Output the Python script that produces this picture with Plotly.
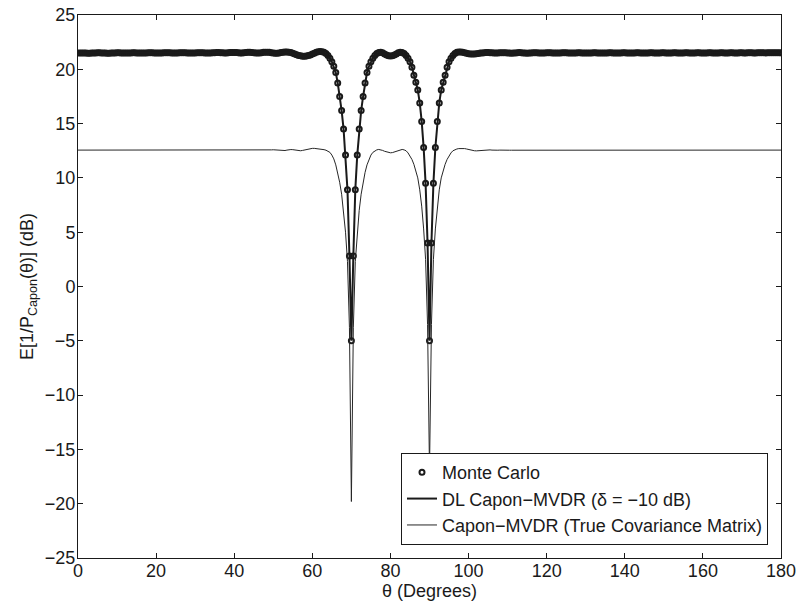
import plotly.graph_objects as go

# Look direction grid (degrees), 0.5 degree steps from 0 to 180
theta_deg = [i * 0.5 for i in range(361)]

# E[1/P_Capon] with diagonal loading (delta = -10 dB), in dB
dl_capon_db = [
    21.50, 21.50, 21.50, 21.50, 21.49, 21.48, 21.48, 21.49, 21.50, 21.51, 21.52, 21.52, 21.51, 21.50, 21.49, 21.48, 21.48, 21.49, 21.50, 21.51,
    21.52, 21.52, 21.51, 21.50, 21.49, 21.49, 21.50, 21.51, 21.52, 21.52, 21.51, 21.50, 21.49, 21.49, 21.50, 21.51, 21.52, 21.53, 21.52, 21.51,
    21.50, 21.49, 21.49, 21.50, 21.52, 21.53, 21.53, 21.52, 21.50, 21.49, 21.49, 21.50, 21.52, 21.53, 21.53, 21.52, 21.51, 21.50, 21.50, 21.51,
    21.51, 21.52, 21.53, 21.53, 21.52, 21.51, 21.50, 21.50, 21.51, 21.52, 21.53, 21.54, 21.54, 21.53, 21.52, 21.51, 21.51, 21.52, 21.54, 21.55,
    21.55, 21.54, 21.52, 21.51, 21.51, 21.52, 21.54, 21.56, 21.56, 21.55, 21.53, 21.51, 21.50, 21.51, 21.53, 21.56, 21.58, 21.58, 21.56, 21.53,
    21.50, 21.48, 21.48, 21.50, 21.54, 21.58, 21.60, 21.60, 21.58, 21.54, 21.48, 21.41, 21.34, 21.28, 21.24, 21.21, 21.20, 21.22, 21.26, 21.32,
    21.40, 21.48, 21.56, 21.62, 21.64, 21.62, 21.56, 21.45, 21.28, 21.02, 20.70, 20.28, 19.70, 18.75, 17.50, 16.20, 14.50, 12.10, 8.90, 2.80,
    -5.00, 2.80, 8.90, 12.10, 14.50, 16.20, 17.50, 18.75, 19.70, 20.28, 20.70, 21.02, 21.28, 21.45, 21.55, 21.58, 21.52, 21.42, 21.32, 21.25,
    21.22, 21.25, 21.32, 21.42, 21.52, 21.58, 21.55, 21.45, 21.28, 21.02, 20.70, 20.20, 19.45, 18.80, 18.10, 16.90, 15.20, 12.80, 9.50, 4.00,
    -5.00, 4.00, 9.50, 12.80, 15.20, 16.90, 18.10, 18.80, 19.45, 20.20, 20.70, 21.02, 21.28, 21.45, 21.56, 21.60, 21.60, 21.57, 21.52, 21.48,
    21.44, 21.41, 21.40, 21.41, 21.43, 21.46, 21.49, 21.51, 21.53, 21.54, 21.54, 21.53, 21.52, 21.51, 21.51, 21.51, 21.52, 21.53, 21.53, 21.52,
    21.51, 21.49, 21.48, 21.49, 21.51, 21.53, 21.54, 21.53, 21.51, 21.49, 21.48, 21.49, 21.51, 21.53, 21.53, 21.52, 21.50, 21.49, 21.49, 21.50,
    21.52, 21.53, 21.53, 21.51, 21.50, 21.49, 21.49, 21.50, 21.52, 21.53, 21.52, 21.51, 21.49, 21.49, 21.50, 21.51, 21.52, 21.52, 21.51, 21.50,
    21.49, 21.49, 21.50, 21.51, 21.52, 21.52, 21.51, 21.50, 21.49, 21.49, 21.50, 21.51, 21.52, 21.52, 21.51, 21.50, 21.49, 21.50, 21.51, 21.52,
    21.52, 21.51, 21.50, 21.49, 21.50, 21.51, 21.52, 21.52, 21.51, 21.50, 21.50, 21.50, 21.51, 21.52, 21.52, 21.51, 21.50, 21.50, 21.51, 21.52,
    21.52, 21.51, 21.50, 21.50, 21.51, 21.52, 21.52, 21.51, 21.50, 21.50, 21.51, 21.52, 21.52, 21.51, 21.50, 21.50, 21.51, 21.52, 21.52, 21.51,
    21.50, 21.50, 21.51, 21.52, 21.52, 21.51, 21.50, 21.50, 21.51, 21.52, 21.52, 21.51, 21.51, 21.51, 21.52, 21.52, 21.51, 21.51, 21.51, 21.52,
    21.52, 21.51, 21.51, 21.52, 21.52, 21.52, 21.51, 21.51, 21.52, 21.52, 21.52, 21.52, 21.51, 21.52, 21.52, 21.52, 21.52, 21.52, 21.52, 21.52,
    21.52,
]

# Monte Carlo averages land on the DL Capon curve at every grid point
monte_carlo_db = list(dl_capon_db)

# 1/P_Capon computed from the true covariance matrix, in dB
true_cov_db = [
    12.56, 12.56, 12.56, 12.55, 12.55, 12.55, 12.56, 12.56, 12.56, 12.56, 12.55, 12.55, 12.55, 12.56, 12.56, 12.56, 12.56, 12.55, 12.55, 12.55,
    12.56, 12.56, 12.56, 12.56, 12.55, 12.55, 12.55, 12.56, 12.56, 12.56, 12.56, 12.55, 12.55, 12.55, 12.56, 12.56, 12.56, 12.56, 12.55, 12.55,
    12.55, 12.56, 12.56, 12.56, 12.55, 12.55, 12.55, 12.56, 12.56, 12.56, 12.55, 12.55, 12.55, 12.56, 12.56, 12.56, 12.55, 12.55, 12.55, 12.56,
    12.56, 12.56, 12.55, 12.55, 12.56, 12.56, 12.56, 12.55, 12.55, 12.55, 12.56, 12.56, 12.57, 12.56, 12.55, 12.55, 12.55, 12.56, 12.57, 12.57,
    12.56, 12.55, 12.54, 12.55, 12.56, 12.57, 12.57, 12.56, 12.54, 12.54, 12.55, 12.57, 12.58, 12.57, 12.55, 12.53, 12.52, 12.53, 12.55, 12.58,
    12.59, 12.58, 12.55, 12.51, 12.49, 12.49, 12.52, 12.56, 12.60, 12.61, 12.60, 12.57, 12.53, 12.50, 12.50, 12.53, 12.58, 12.63, 12.67, 12.70,
    12.72, 12.72, 12.71, 12.69, 12.66, 12.63, 12.60, 12.55, 12.48, 12.35, 12.10, 11.75, 11.20, 10.50, 9.60, 8.50, 7.00, 5.00, 2.30, -3.80,
    -19.80, -3.80, 2.30, 5.00, 7.00, 8.50, 9.60, 10.50, 11.20, 11.75, 12.10, 12.35, 12.50, 12.58, 12.62, 12.60, 12.53, 12.45, 12.38, 12.33,
    12.31, 12.33, 12.38, 12.45, 12.53, 12.60, 12.62, 12.58, 12.50, 12.30, 12.05, 11.70, 11.25, 10.70, 10.00, 8.90, 7.40, 5.30, 2.50, -3.50,
    -17.00, -3.50, 2.50, 5.30, 7.40, 8.90, 10.00, 10.70, 11.25, 11.70, 12.05, 12.30, 12.50, 12.60, 12.66, 12.70, 12.72, 12.72, 12.70, 12.66,
    12.61, 12.57, 12.53, 12.50, 12.49, 12.50, 12.53, 12.56, 12.59, 12.60, 12.60, 12.58, 12.56, 12.54, 12.54, 12.55, 12.56, 12.57, 12.58, 12.57,
    12.56, 12.55, 12.55, 12.55, 12.56, 12.57, 12.57, 12.57, 12.56, 12.55, 12.55, 12.55, 12.56, 12.57, 12.57, 12.57, 12.56, 12.55, 12.55, 12.56,
    12.56, 12.57, 12.57, 12.56, 12.55, 12.54, 12.55, 12.56, 12.57, 12.57, 12.56, 12.55, 12.55, 12.55, 12.56, 12.57, 12.57, 12.56, 12.55, 12.55,
    12.56, 12.56, 12.57, 12.56, 12.56, 12.55, 12.55, 12.56, 12.56, 12.57, 12.56, 12.56, 12.55, 12.55, 12.56, 12.56, 12.56, 12.56, 12.56, 12.55,
    12.55, 12.56, 12.56, 12.56, 12.56, 12.56, 12.55, 12.55, 12.56, 12.56, 12.56, 12.56, 12.56, 12.55, 12.55, 12.56, 12.56, 12.56, 12.56, 12.56,
    12.55, 12.55, 12.56, 12.56, 12.56, 12.56, 12.56, 12.56, 12.55, 12.56, 12.56, 12.56, 12.56, 12.56, 12.56, 12.56, 12.56, 12.56, 12.56, 12.56,
    12.56, 12.56, 12.55, 12.55, 12.56, 12.56, 12.56, 12.56, 12.56, 12.56, 12.55, 12.55, 12.56, 12.56, 12.56, 12.56, 12.56, 12.56, 12.56, 12.56,
    12.56, 12.56, 12.56, 12.56, 12.56, 12.56, 12.55, 12.55, 12.56, 12.56, 12.56, 12.56, 12.56, 12.56, 12.56, 12.56, 12.56, 12.56, 12.56, 12.56,
    12.56,
]

assert len(dl_capon_db) == len(theta_deg) == len(true_cov_db)

x_ticks = list(range(0, 181, 20))
y_ticks = list(range(-25, 26, 5))

INK = "#1a1a1a"
FAMILY = "Liberation Sans, Arial, Helvetica, sans-serif"
FONT = dict(family=FAMILY, size=18, color=INK)
LEGEND_FONT = dict(family=FAMILY, size=18, color=INK)

fig = go.Figure()

fig.add_trace(go.Scatter(
    x=theta_deg, y=monte_carlo_db, mode="markers", name="Monte Carlo",
    marker=dict(symbol="circle-open", size=5, color=INK, line=dict(width=2, color=INK)),
))
fig.add_trace(go.Scatter(
    x=theta_deg, y=dl_capon_db, mode="lines",
    name="DL Capon\u2212MVDR (\u03b4 = \u221210 dB)",
    line=dict(color=INK, width=2),
))
fig.add_trace(go.Scatter(
    x=theta_deg, y=true_cov_db, mode="lines",
    name="Capon\u2212MVDR (True Covariance Matrix)",
    line=dict(color="#262626", width=1),
))

axis_common = dict(
    showline=True, linecolor=INK, linewidth=1, mirror="ticks",
    ticks="inside", ticklen=5, tickwidth=1, tickcolor=INK,
    showgrid=False, zeroline=False, tickfont=FONT, automargin=False,
)

fig.update_layout(
    width=800, height=603,
    margin=dict(l=78, r=19, t=15, b=45),
    paper_bgcolor="white", plot_bgcolor="white",
    font=FONT,
    showlegend=True,
    legend=dict(
        x=0.9815, y=0.024, xanchor="right", yanchor="bottom",
        bgcolor="white", bordercolor=INK, borderwidth=1,
        font=LEGEND_FONT, tracegroupgap=0, itemwidth=30,
    ),
    xaxis=dict(
        range=[0, 180], tickvals=x_ticks, ticklabelstandoff=-4,
        title=dict(text="\u03b8 (Degrees)", font=FONT, standoff=0),
        **axis_common,
    ),
    yaxis=dict(
        range=[-25, 25], tickvals=y_ticks, ticklabelstandoff=-2,
        title=dict(text="E[1/P<sub>Capon</sub>(\u03b8)] (dB)", font=FONT, standoff=6),
        **axis_common,
    ),
    hovermode=False,
)

fig.write_html("out.html", config={"displayModeBar": False})
